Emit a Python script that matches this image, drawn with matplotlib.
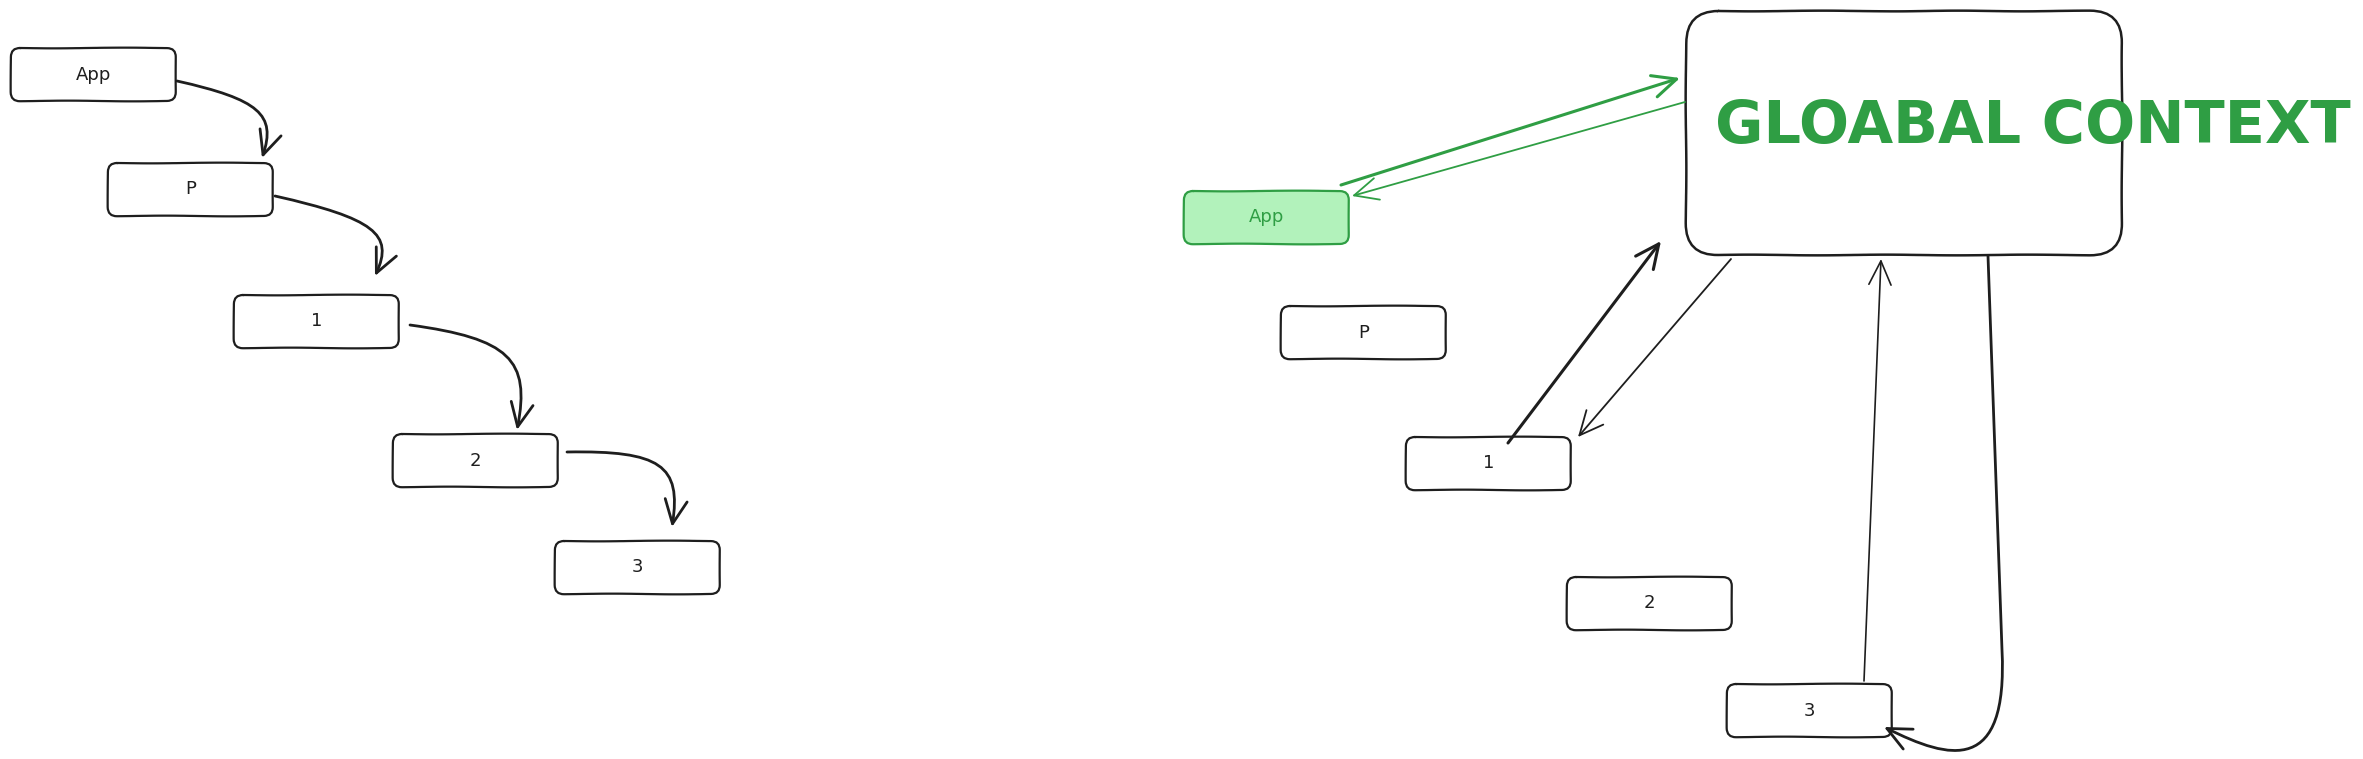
import matplotlib
matplotlib.use("Agg")
import matplotlib.pyplot as plt
from matplotlib.patches import FancyBboxPatch, FancyArrowPatch
from matplotlib.path import Path

W, H = 2363, 759
BLACK = "#1e1e1e"
GREEN = "#2f9e44"
GREEN_FILL = "#b2f2bb"

# ---- nodes: label, x0, y0 (pixel coords, y downwards)
left_labels = ["App", "P", "1", "2", "3"]
left_x0 = [11, 108, 234, 393, 555]
left_y0 = [48, 163, 295, 434, 541]
right_labels = ["App", "P", "1", "2", "3"]
right_x0 = [1184, 1281, 1406, 1567, 1727]
right_y0 = [191, 306, 437, 577, 684]
node_w = 165
node_h = 53
right_face = [GREEN_FILL, "white", "white", "white", "white"]
right_edge = [GREEN, BLACK, BLACK, BLACK, BLACK]

ctx_box = (1686, 11, 2122, 255)
ctx_title = "GLOABAL CONTEXT"

# ---- left curved arrows: start, elbow, end
curve_start = [(177, 81), (275, 196), (410, 325), (567, 452)]
curve_elbow = [(280, 104), (399, 224), (534, 342), (684, 450)]
curve_end = [(262, 158), (375, 276), (517, 430), (672, 527)]

# ---- right straight arrows: start, end, colour, width
line_start = [(1341, 185), (1685, 102), (1508, 443), (1731, 259), (1864, 681)]
line_end = [(1680, 78), (1352, 196), (1661, 241), (1578, 437), (1881, 259)]
line_color = [GREEN, GREEN, BLACK, BLACK, BLACK]
line_width = [2.2, 1.3, 2.2, 1.3, 1.2]

fig = plt.figure(figsize=(W / 100, H / 100), dpi=100)
ax = fig.add_axes([0, 0, 1, 1])
ax.set_xlim(0, W)
ax.set_ylim(H, 0)
ax.axis("off")
fig.patch.set_facecolor("white")

SK = (0.35, 150, 2)


def node(x0, y0, w, h, label, fc="white", ec=BLACK, tc=BLACK, r=9, lw=1.6, fs=13):
    p = FancyBboxPatch((x0, y0), w, h,
                       boxstyle=f"round,pad=0,rounding_size={r}",
                       fc=fc, ec=ec, lw=lw, zorder=2)
    p.set_sketch_params(*SK)
    ax.add_patch(p)
    if label:
        ax.text(x0 + w / 2, y0 + h / 2, label, ha="center", va="center",
                fontsize=fs, color=tc, family="DejaVu Sans", zorder=3)


for lab, x0, y0 in zip(left_labels, left_x0, left_y0):
    node(x0, y0, node_w, node_h, lab)

for lab, x0, y0, fc, ec in zip(right_labels, right_x0, right_y0, right_face, right_edge):
    node(x0, y0, node_w, node_h, lab, fc=fc, ec=ec, tc=ec)

cx0, cy0, cx1, cy1 = ctx_box
node(cx0, cy0, cx1 - cx0, cy1 - cy0, None, r=32, lw=1.8)
ax.text(1715, 127, ctx_title, ha="left", va="center", fontsize=42.5,
        fontweight="bold", color=GREEN, family="DejaVu Sans", zorder=4)

ARW = "->,head_length=0.9,head_width=0.42"
MS = 19

for s, e, c in zip(curve_start, curve_elbow, curve_end):
    c1 = (s[0] + 0.8 * (e[0] - s[0]), s[1] + 0.8 * (e[1] - s[1]))
    c2 = (c[0] + 0.8 * (e[0] - c[0]), c[1] + 0.8 * (e[1] - c[1]))
    path = Path([s, c1, c2, c], [Path.MOVETO, Path.CURVE4, Path.CURVE4, Path.CURVE4])
    a = FancyArrowPatch(path=path, arrowstyle=ARW, mutation_scale=MS,
                        color=BLACK, lw=2.0, zorder=5)
    ax.add_patch(a)

for s, e, c, lw in zip(line_start, line_end, line_color, line_width):
    a = FancyArrowPatch(s, e, arrowstyle=ARW, mutation_scale=MS,
                        color=c, lw=lw, shrinkA=0, shrinkB=0, zorder=5)
    ax.add_patch(a)

# long curved arrow from context down to node 3
loop_pts = [(1988, 256), (2002, 650), (2008, 775), (1950, 760), (1884, 727)]
loop_codes = [Path.MOVETO, Path.LINETO, Path.CURVE4, Path.CURVE4, Path.CURVE4]
a = FancyArrowPatch(path=Path(loop_pts, loop_codes), arrowstyle=ARW,
                    mutation_scale=MS, color=BLACK, lw=2.0, zorder=5)
ax.add_patch(a)

fig.savefig("out.png", dpi=100, facecolor="white")
